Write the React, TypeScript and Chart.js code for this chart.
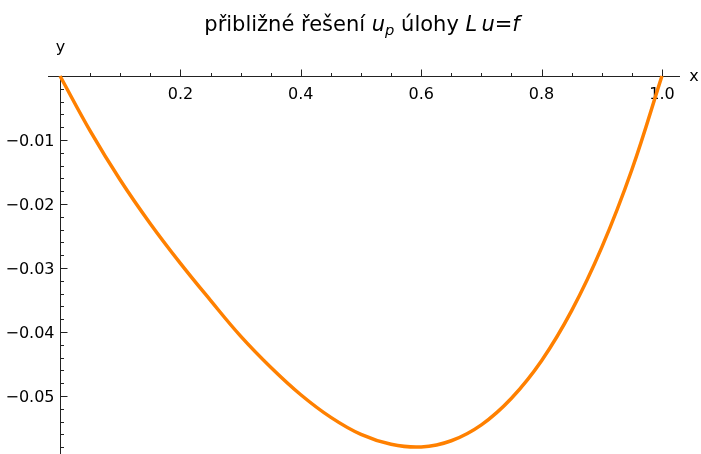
import React, { useEffect, useRef } from "react";
import { Chart, registerables } from "chart.js";

Chart.register(...registerables);

// data
const xValues = [0, 0.05, 0.1, 0.15, 0.2, 0.25, 0.3, 0.35, 0.4, 0.45, 0.5, 0.55, 0.6, 0.65, 0.7, 0.75, 0.8, 0.85, 0.9, 0.95, 1.0];
const yValues = [0, -0.00857, -0.01625, -0.02308, -0.02928, -0.03506, -0.04064, -0.0455, -0.0498, -0.05334, -0.056, -0.05754, -0.05796, -0.05699, -0.0545, -0.05034, -0.04448, -0.03666, -0.02678, -0.01465, 0];

const xMajorTicks = [0.2, 0.4, 0.6, 0.8, 1.0];
const xTickLabels = ["0.2", "0.4", "0.6", "0.8", "1.0"];
const xMinorTicks = [0.05, 0.1, 0.15, 0.25, 0.3, 0.35, 0.45, 0.5, 0.55, 0.65, 0.7, 0.75, 0.85, 0.9, 0.95];
const yMajorTicks = [-0.01, -0.02, -0.03, -0.04, -0.05];
const yTickLabels = ["\u22120.01", "\u22120.02", "\u22120.03", "\u22120.04", "\u22120.05"];
const yMinorTicks = [-0.002, -0.004, -0.006, -0.008, -0.012, -0.014, -0.016, -0.018, -0.022, -0.024, -0.026, -0.028, -0.032, -0.034, -0.036, -0.038, -0.042, -0.044, -0.046, -0.048, -0.052, -0.054, -0.056, -0.058];

const titleRuns = [
  { text: "přibližné řešení ", italic: false, sub: false },
  { text: "u", italic: true, sub: false },
  { text: "p", italic: true, sub: true },
  { text: " úlohy ", italic: false, sub: false },
  { text: "L", italic: true, sub: false },
  { text: "\u2009", italic: false, sub: false },
  { text: "u", italic: true, sub: false },
  { text: "=", italic: false, sub: false },
  { text: "f", italic: true, sub: false },
];

const FONT = "'DejaVu Sans', sans-serif";
const TICK_SIZE = 16;
const TITLE_SIZE = 21;

const axesPlugin = {
  id: "originAxes",
  beforeDatasetsDraw(chart: any) {
    const ctx = chart.ctx;
    const xs = chart.scales.x;
    const ys = chart.scales.y;
    const area = chart.chartArea;
    const x0 = Math.round(xs.getPixelForValue(0)) + 0.5;
    const y0 = Math.round(ys.getPixelForValue(0)) + 0.5;
    ctx.save();
    ctx.strokeStyle = "#222";
    ctx.lineWidth = 1;
    ctx.beginPath();
    ctx.moveTo(area.left, y0);
    ctx.lineTo(area.right, y0);
    ctx.moveTo(x0, y0);
    ctx.lineTo(x0, area.bottom);
    for (const v of xMajorTicks) {
      const px = Math.round(xs.getPixelForValue(v)) + 0.5;
      ctx.moveTo(px, y0);
      ctx.lineTo(px, y0 - 7);
    }
    for (const v of xMinorTicks) {
      const px = Math.round(xs.getPixelForValue(v)) + 0.5;
      ctx.moveTo(px, y0);
      ctx.lineTo(px, y0 - 3.5);
    }
    for (const v of yMajorTicks) {
      const py = Math.round(ys.getPixelForValue(v)) + 0.5;
      ctx.moveTo(x0, py);
      ctx.lineTo(x0 + 7, py);
    }
    for (const v of yMinorTicks) {
      const py = Math.round(ys.getPixelForValue(v)) + 0.5;
      ctx.moveTo(x0, py);
      ctx.lineTo(x0 + 3.5, py);
    }
    ctx.stroke();

    ctx.fillStyle = "#000";
    ctx.font = `${TICK_SIZE}px ${FONT}`;
    ctx.textBaseline = "alphabetic";
    ctx.textAlign = "center";
    xMajorTicks.forEach((v, i) => {
      ctx.fillText(xTickLabels[i], xs.getPixelForValue(v), y0 + 22);
    });
    ctx.textAlign = "right";
    yMajorTicks.forEach((v, i) => {
      ctx.fillText(yTickLabels[i], x0 - 6, ys.getPixelForValue(v) + 6);
    });
    ctx.textAlign = "center";
    ctx.textBaseline = "middle";
    ctx.fillText("x", area.right + 14, y0);
    ctx.fillText("y", x0, y0 - 29);

    const runs = titleRuns.map((r) => {
      const size = r.sub ? TITLE_SIZE * 0.7 : TITLE_SIZE;
      const font = `${r.italic ? "italic " : ""}${size}px ${FONT}`;
      ctx.font = font;
      return { ...r, font, w: ctx.measureText(r.text).width };
    });
    const total = runs.reduce((s, r) => s + r.w, 0);
    let cx = 362 - total / 2;
    const base = 31;
    ctx.textAlign = "left";
    ctx.textBaseline = "alphabetic";
    for (const r of runs) {
      ctx.font = r.font;
      ctx.fillText(r.text, cx, r.sub ? base + 4 : base);
      cx += r.w;
    }
    ctx.restore();
  },
};

export default function App() {
  const ref = useRef<HTMLCanvasElement | null>(null);
  useEffect(() => {
    document.body.style.margin = "0";
    const canvas = ref.current!;
    const chart = new Chart(canvas, {
      type: "line",
      data: {
        datasets: [
          {
            data: xValues.map((x, i) => ({ x, y: yValues[i] })),
            borderColor: "#ff8000",
            borderWidth: 3.5,
            pointRadius: 0,
            fill: false,
            tension: 0.4,
            clip: false,
          } as any,
        ],
      },
      options: {
        animation: false,
        responsive: false,
        layout: { padding: { left: 48, right: 21, top: 76, bottom: 0 } },
        plugins: { legend: { display: false }, tooltip: { enabled: false }, title: { display: false } },
        scales: {
          x: { type: "linear", min: -0.02, max: 1.03, display: false },
          y: { type: "linear", min: -0.05906, max: 0, display: false },
        },
      },
      plugins: [axesPlugin],
    });
    return () => chart.destroy();
  }, []);
  return (
    <div style={{ width: 701, height: 454, background: "#fff" }}>
      <canvas ref={ref} width={701} height={454} style={{ display: "block" }} />
    </div>
  );
}
